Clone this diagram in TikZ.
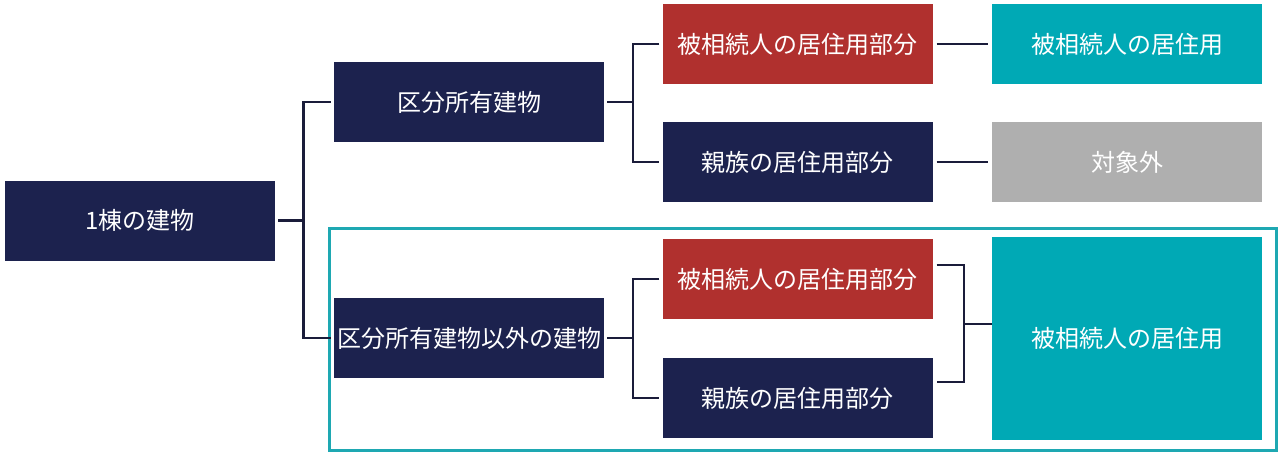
\documentclass[tikz,border=0pt]{standalone}
\usepackage{fontspec}
\newfontfamily\jp{Noto Sans CJK JP}
\definecolor{navy}{RGB}{28,34,78}
\definecolor{cred}{RGB}{176,48,46}
\definecolor{teal2}{RGB}{0,169,181}
\definecolor{tealline}{RGB}{30,168,178}
\definecolor{gray2}{RGB}{175,175,175}
\definecolor{lnc}{RGB}{26,28,58}
\tikzset{
  box/.style={rectangle, inner sep=0pt, minimum width=270pt, minimum height=80pt, text=white, font=\jp\fontsize{24}{28}\selectfont},
  nv/.style={box, fill=navy},
  rd/.style={box, fill=cred},
  tl/.style={box, fill=teal2},
  gr/.style={box, fill=gray2},
  conn/.style={draw=lnc, line width=2.7pt},
}
\begin{document}
\begin{tikzpicture}[x=1pt,y=-1pt]
\useasboundingbox (0,0) rectangle (1280,459);
\fill[white] (0,0) rectangle (1280,459);
\draw[tealline, line width=3pt] (329,228) rectangle (1276,450);
\node[nv] (a) at (140,220.5) {1棟の建物};
\node[nv] (b) at (469,102) {区分所有建物};
\node[nv] (c) at (469,338) {区分所有建物以外の建物};
\node[rd] (d) at (797.5,44) {被相続人の居住用部分};
\node[nv] (e) at (797.5,162) {親族の居住用部分};
\node[rd] (f) at (797.5,279) {被相続人の居住用部分};
\node[nv] (g) at (797.5,398) {親族の居住用部分};
\node[tl] (h) at (1127,44) {被相続人の居住用};
\node[gr] (i) at (1127,162) {対象外};
\node[tl, minimum height=203pt] (j) at (1127,338.5) {被相続人の居住用};
% connectors
\coordinate (ja) at (303.5,220.5);
\draw[conn] ([xshift=3pt]a.east) -- (ja);
\draw[conn] ([xshift=-3pt]b.west) -| (ja) |- ([xshift=-3pt]c.west);
\coordinate (jb) at (633,102);
\draw[conn] ([xshift=3pt]b.east) -- (jb);
\draw[conn] ([xshift=-3pt]d.west) -| (jb) |- ([xshift=-3pt]e.west);
\coordinate (jc) at (633,338);
\draw[conn] ([xshift=3pt]c.east) -- (jc);
\draw[conn] ([xshift=-3pt]f.west) -| (jc) |- ([xshift=-3pt]g.west);
\draw[conn] ([xshift=4pt]d.east) -- ([xshift=-4pt]h.west);
\draw[conn] ([xshift=4pt]e.east) -- ([xshift=-4pt]i.west);
\coordinate (jd) at (964,324);
\draw[conn] ([xshift=4pt,yshift=14pt]f.east) -| (jd) |- ([xshift=4pt,yshift=16pt]g.east);
\draw[conn] (jd) -- (jd -| j.west);
\end{tikzpicture}
\end{document}
